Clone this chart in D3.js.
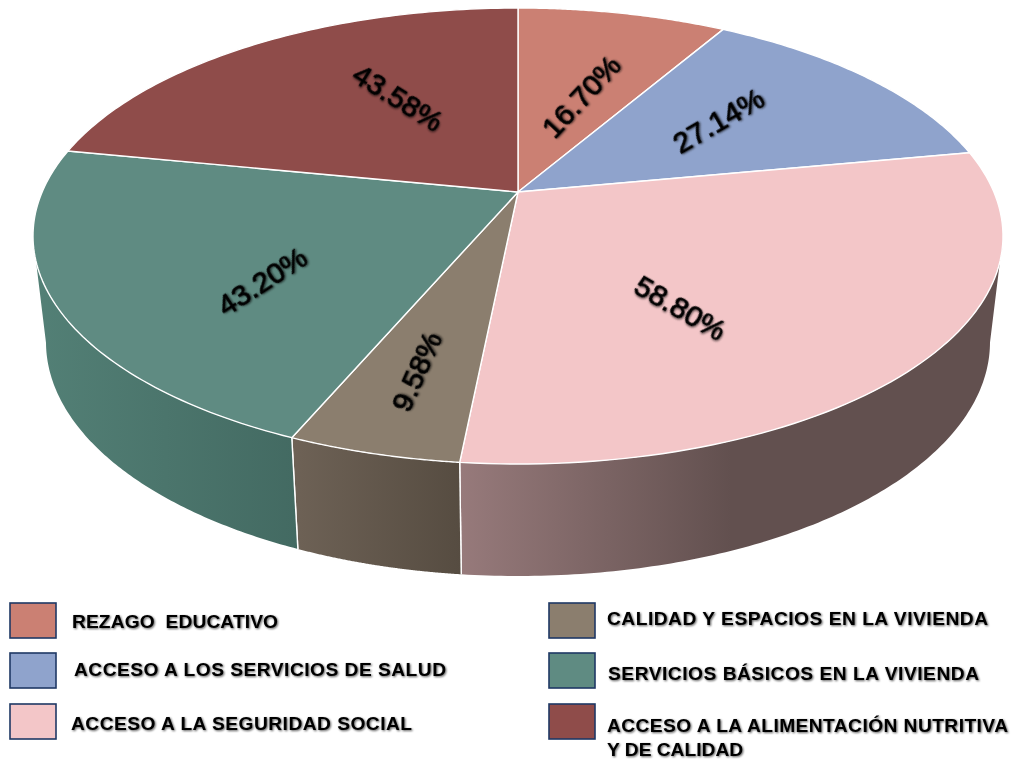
<!DOCTYPE html>
<html>
<head>
<meta charset="utf-8">
<script src="https://cdnjs.cloudflare.com/ajax/libs/d3/7.8.5/d3.min.js"></script>
<style>
html,body{margin:0;padding:0;background:#fff;overflow:hidden}
text{font-family:"Liberation Sans",Arial,sans-serif;fill:#000}
.pct{font-size:29.5px;stroke:#000;stroke-width:0.7px;filter:url(#shadow)}
.leg{font-size:19.2px;font-weight:bold;white-space:pre;filter:url(#shadow)}
</style>
</head>
<body>
<svg id="c" width="1011" height="760"></svg>
<script>
const categories = ["REZAGO  EDUCATIVO","ACCESO A LOS SERVICIOS DE SALUD","ACCESO A LA SEGURIDAD SOCIAL","CALIDAD Y ESPACIOS EN LA VIVIENDA","SERVICIOS BÁSICOS EN LA VIVIENDA","ACCESO A LA ALIMENTACIÓN NUTRITIVA"];
const values = [16.70,27.14,58.80,9.58,43.20,43.58];
const topColors = ["#cb8073","#8fa3cc","#f3c6c8","#8b7e6e","#5f8b82","#8f4c4a"];
// wall gradient stops: [offset, colour]
const wallStops = [null,null,
  [[0,"#977a7b"],[0.5,"#62504f"],[1,"#62504f"]],
  [[0,"#6e6256"],[1,"#564c41"]],
  [[0,"#538076"],[1,"#436a62"]],
  null];
const labelNudge = [[6,1],[16,-12],[-25,36],[-37,62],[-36,35],[21,-16]];
const labelRotate = [-47,-30,30,-66,-33,32];
const legendCol = [0,0,0,1,1,1];
const legendRow = [0,1,2,0,1,2];
const legendTextX = [72,74,71,607,608,607];
const legendTextY = [628,676,730,625,680,732];
const legendTextW = [206,372,341,381,371,401];
const legendExtra = [null,null,null,null,null,"Y DE CALIDAD"];

const svg = d3.select("#c");
const defs = svg.append("defs");
const f = defs.append("filter").attr("id","shadow").attr("x","-10%").attr("y","-30%").attr("width","120%").attr("height","160%");
f.append("feGaussianBlur").attr("in","SourceGraphic").attr("stdDeviation",0.35).attr("result","soft");
f.append("feGaussianBlur").attr("in","SourceAlpha").attr("stdDeviation",1.1).attr("result","b");
f.append("feOffset").attr("in","b").attr("dx",1.3).attr("dy",1.3).attr("result","o");
f.append("feComponentTransfer").attr("in","o").attr("result","s").append("feFuncA").attr("type","linear").attr("slope",0.65);
const m = f.append("feMerge"); m.append("feMergeNode").attr("in","s"); m.append("feMergeNode").attr("in","soft");

// Scales that place the unit disc's ellipse on the page
const top_ = {x:d3.scaleLinear([-1,1],[33,1003]), y:d3.scaleLinear([-1,1],[8,464])};
const bot_ = {x:d3.scaleLinear([-1,1],[46,990]), y:d3.scaleLinear([-1,1],[108,576])};
const a = -0.193; // perspective shift of the disc centre
function disc(theta,r){ // perspective map: pie angle (clockwise from top) -> unit disc
  const u=r*Math.sin(theta), v=-r*Math.cos(theta), k=1+a*v;
  return [u*Math.sqrt(1-a*a)/k,(v+a)/k];
}
const P=(e,q)=>[e.x(q[0]),e.y(q[1])];
const pie = d3.pie().sort(null).value(d=>d)(values);
const line = d3.line();
const samples=(t0,t1,n=80)=>d3.range(n+1).map(i=>t0+(t1-t0)*i/n);

// Walls: only the part of each slice facing the viewer
const gWalls=svg.append("g"), gTops=svg.append("g");
pie.forEach((d,i)=>{
  if(!wallStops[i]) return;
  const ts=samples(d.startAngle,d.endAngle,160).filter(t=>disc(t,1)[1]>=0);
  const rim=ts.map(t=>P(top_,disc(t,1))), low=ts.map(t=>P(bot_,disc(t,1)));
  const xs=rim.concat(low).map(p=>p[0]);
  const left=d3.min(xs), right=d3.max(xs);
  const g=defs.append("linearGradient").attr("id","w"+i).attr("gradientUnits","userSpaceOnUse")
    .attr("x1",left).attr("x2",right).attr("y1",0).attr("y2",0);
  wallStops[i].forEach(s=>g.append("stop").attr("offset",s[0]).attr("stop-color",s[1]));
  gWalls.append("path").attr("d",line(rim.concat(low.slice().reverse()))+"Z")
    .attr("fill",`url(#w${i})`).attr("stroke","none");
  [d.startAngle,d.endAngle].forEach(t=>{
    const q=disc(t,1);
    if(q[1]>0.5) gWalls.append("path").attr("d",line([P(top_,q),P(bot_,q)])).attr("stroke","#fff").attr("stroke-width",1.4).attr("fill","none");
  });
});

// Top faces
pie.forEach((d,i)=>{
  const rim=samples(d.startAngle,d.endAngle).map(t=>P(top_,disc(t,1)));
  const apex=P(top_,disc(0,0));
  gTops.append("path").attr("d",line([apex,...rim])+"Z")
    .attr("fill",topColors[i]).attr("stroke","#fff").attr("stroke-width",1.4).attr("stroke-linejoin","round");
});

// Value labels
pie.forEach((d,i)=>{
  const p=P(top_,disc((d.startAngle+d.endAngle)/2,0.5));
  svg.append("text").attr("class","pct")
    .attr("text-anchor","middle").attr("dominant-baseline","central")
    .attr("transform",`translate(${p[0]+labelNudge[i][0]},${p[1]+labelNudge[i][1]}) rotate(${labelRotate[i]})`)
    .text(d.data.toFixed(2)+"%");
});

// Legend
const colX=d3.scaleOrdinal([0,1],[10,549]);
const rowY=d3.scaleOrdinal([0,1,2],[603,653,704]);
categories.forEach((c,i)=>{
  svg.append("rect").attr("x",colX(legendCol[i])).attr("y",rowY(legendRow[i])).attr("width",46).attr("height",35)
    .attr("fill",topColors[i]).attr("stroke","#1f3864").attr("stroke-width",1.6);
  svg.append("text").attr("class","leg").attr("x",legendTextX[i]).attr("y",legendTextY[i])
    .attr("textLength",legendTextW[i]).attr("lengthAdjust","spacing").text(c);
  if(legendExtra[i]) svg.append("text").attr("class","leg").attr("x",legendTextX[i]).attr("y",legendTextY[i]+24).text(legendExtra[i]);
});
</script>
</body>
</html>
